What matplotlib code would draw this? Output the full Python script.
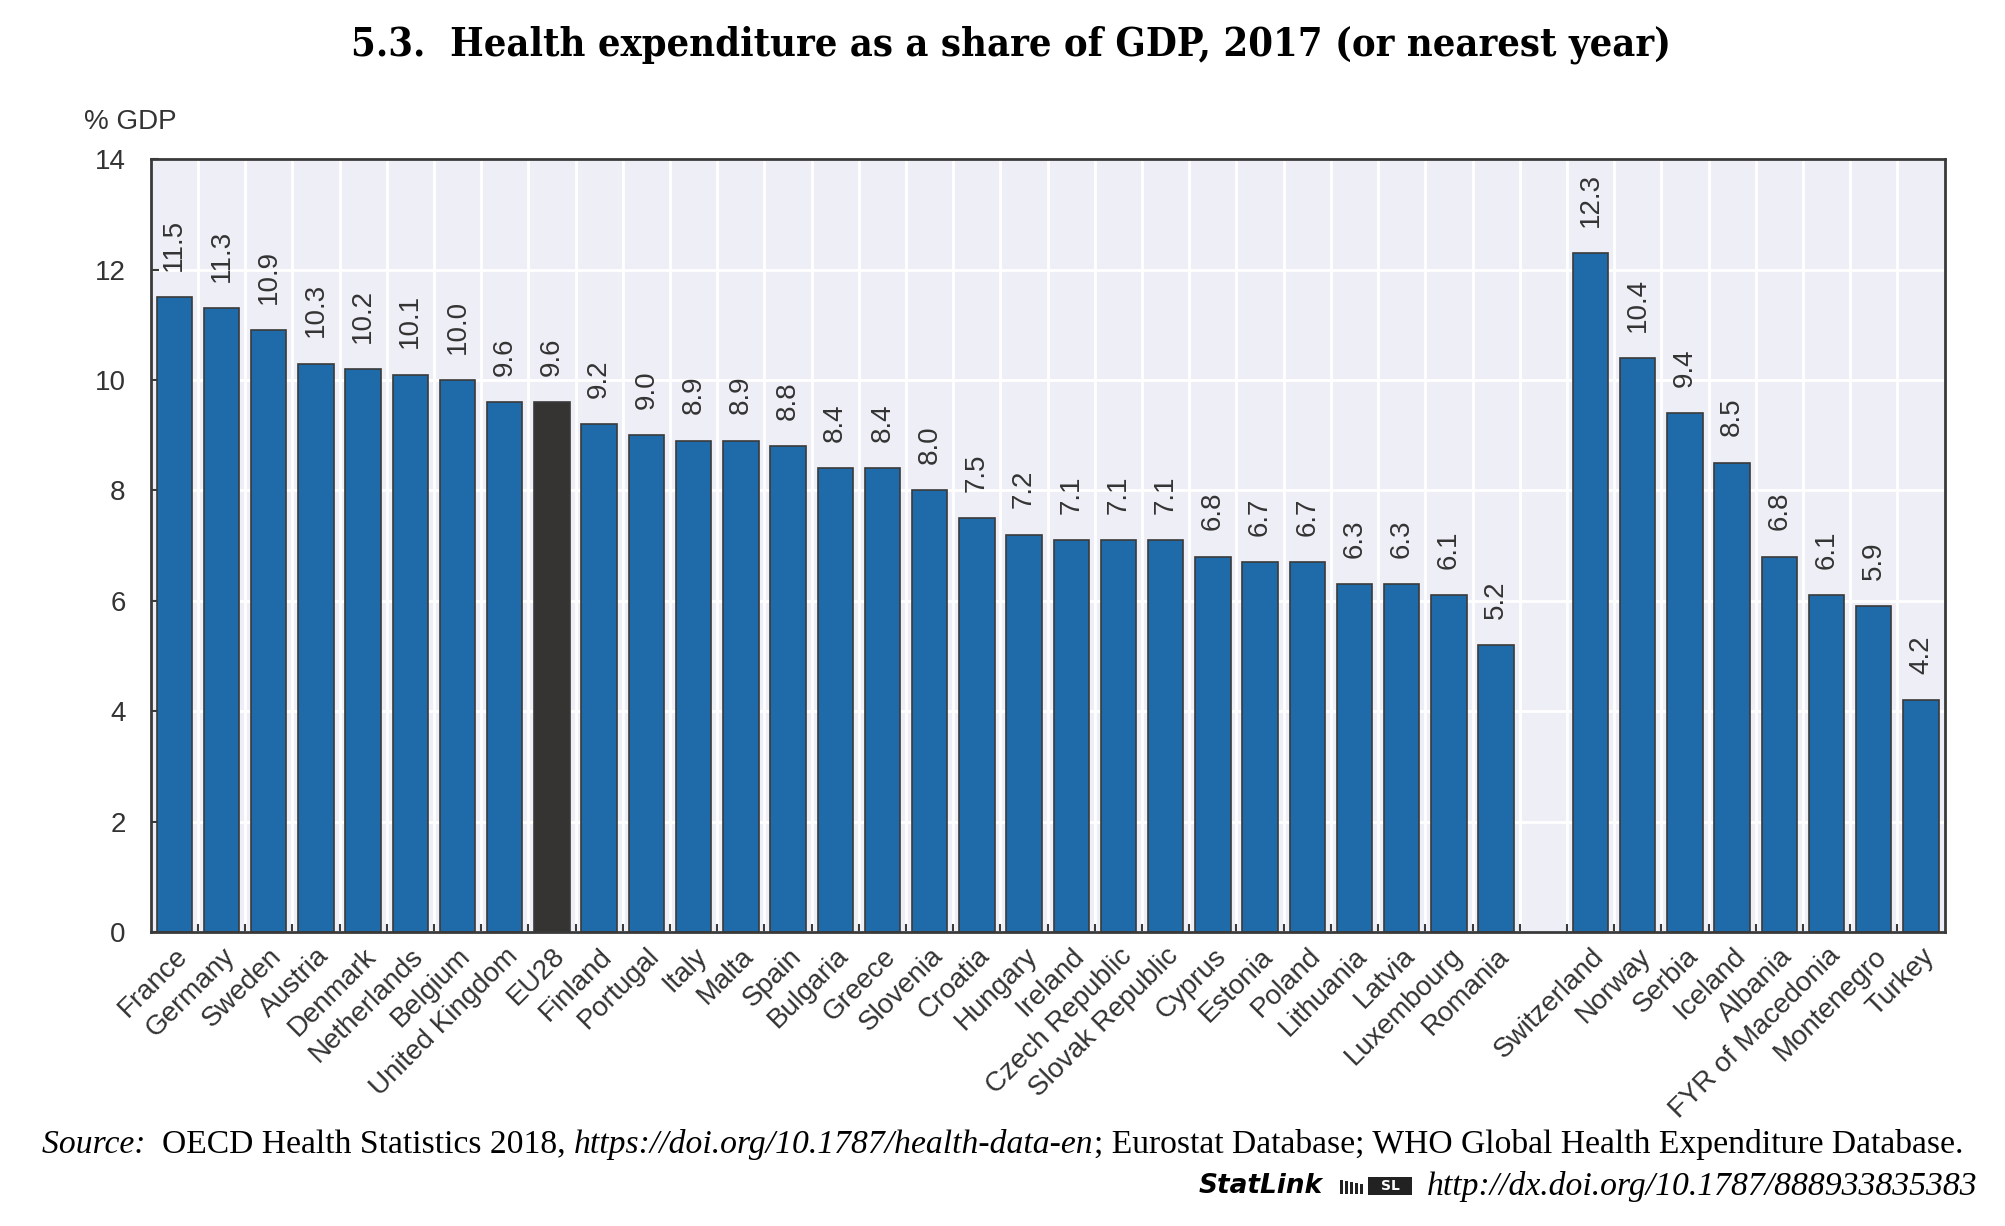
import matplotlib
matplotlib.use("Agg")
import matplotlib.pyplot as plt
from matplotlib.patches import Rectangle

countries_eu = ["France", "Germany", "Sweden", "Austria", "Denmark", "Netherlands",
                "Belgium", "United Kingdom", "EU28", "Finland", "Portugal", "Italy",
                "Malta", "Spain", "Bulgaria", "Greece", "Slovenia", "Croatia", "Hungary",
                "Ireland", "Czech Republic", "Slovak Republic", "Cyprus", "Estonia",
                "Poland", "Lithuania", "Latvia", "Luxembourg", "Romania"]
values_eu = [11.5, 11.3, 10.9, 10.3, 10.2, 10.1, 10.0, 9.6, 9.6, 9.2, 9.0, 8.9,
             8.9, 8.8, 8.4, 8.4, 8.0, 7.5, 7.2, 7.1, 7.1, 7.1, 6.8, 6.7, 6.7,
             6.3, 6.3, 6.1, 5.2]
countries_other = ["Switzerland", "Norway", "Serbia", "Iceland", "Albania",
                   "FYR of Macedonia", "Montenegro", "Turkey"]
values_other = [12.3, 10.4, 9.4, 8.5, 6.8, 6.1, 5.9, 4.2]
highlight = "EU28"

blue = "#1f6aa9"
dark = "#363433"
bg = "#eeeff6"
edge = "#3a3a3a"
sans = ["Liberation Sans Narrow", "Liberation Sans", "DejaVu Sans"]

W, H = 2006, 1226
fig = plt.figure(figsize=(W / 100, H / 100), dpi=100)
ax = fig.add_axes([150.7 / W, 1 - 932 / H, (1944.6 - 150.7) / W, (932 - 159.3) / H])
ax.set_facecolor(bg)

# positions: EU group, one empty slot, then the rest
labels = countries_eu + countries_other
values = values_eu + values_other
pos = list(range(len(countries_eu))) + [len(countries_eu) + 1 + i for i in range(len(countries_other))]
nslots = len(countries_eu) + 1 + len(countries_other)

colors = [dark if c == highlight else blue for c in labels]
ax.bar(pos, values, width=0.75, color=colors, edgecolor=edge, linewidth=1.2, zorder=3)

for x, v in zip(pos, values):
    ax.annotate(f"{v:.1f}", (x, v), xytext=(0, 19), textcoords="offset points",
                rotation=90, ha="center", va="bottom", fontsize=20,
                family=sans, color="#333333")

ax.set_xlim(-0.5, nslots - 0.5)
ax.set_ylim(0, 14)
ax.set_yticks(range(0, 15, 2))
ax.set_xticks(pos)
ax.set_xticklabels(labels, rotation=45, ha="right", rotation_mode="anchor",
                   family=sans, fontsize=20, color="#333333")
bounds = [p + 0.5 for p in pos[:-1]]
bounds.insert(len(countries_eu), len(countries_eu) - 0.5 + 1)
ax.set_xticks(bounds, minor=True)

ax.grid(True, axis="y", color="white", linewidth=2, zorder=1)
ax.grid(True, axis="x", which="minor", color="white", linewidth=2, zorder=1)
ax.grid(False, axis="x", which="major")
ax.tick_params(axis="x", which="major", length=0, pad=8)
ax.tick_params(axis="x", which="minor", direction="in", length=6, width=1.5, color=edge)
ax.tick_params(axis="y", direction="in", length=6, width=1.5, color=edge,
               labelsize=20, labelcolor="#333333", pad=18)
for t in ax.get_yticklabels():
    t.set_family(sans)
for s in ax.spines.values():
    s.set_color(edge)
    s.set_linewidth(2)
    s.set_zorder(4)

fig.text(84 / W, 1 - 122 / H, "% GDP", family=sans, fontsize=20, color="#333333",
         ha="left", va="center")

fig.text(1011 / W, 1 - 45 / H, "5.3.  Health expenditure as a share of GDP, 2017 (or nearest year)",
         family="DejaVu Serif", fontstretch="condensed", fontweight="bold",
         fontsize=28.5, ha="center", va="center", color="black")

# source line, built from pieces with different styles
renderer = fig.canvas.get_renderer()


def run_text(x_px, y_px, parts, ha="left"):
    texts = []
    for s, kw in parts:
        t = fig.text(0, y_px / H, s, va="center", ha="left", **kw)
        texts.append(t)
    widths = [t.get_window_extent(renderer).width for t in texts]
    total = sum(widths)
    x = x_px if ha == "left" else x_px - total
    for t, w in zip(texts, widths):
        t.set_x(x / W)
        x += w
    return x_px - total if ha == "right" else x


serif = dict(family="Liberation Serif", fontsize=24.2, color="black")
serif_i = dict(serif, style="italic")
run_text(42, H - 1145, [
    ("Source:  ", serif_i),
    ("OECD Health Statistics 2018, ", serif),
    ("https://doi.org/10.1787/health-data-en", serif_i),
    ("; Eurostat Database; WHO Global Health Expenditure Database.", serif),
])

left = run_text(1977, H - 1186, [("http://dx.doi.org/10.1787/888933835383", serif_i)], ha="right")
# little StatLink icon: stripes plus an "SL" box
icon_x = left - 86
for k in range(5):
    fig.patches.append(Rectangle(((icon_x + k * 5) / W, (H - 1194) / H), 3 / W, (14 - k) / H,
                                 transform=fig.transFigure, facecolor="#222222",
                                 edgecolor="none"))
fig.patches.append(Rectangle(((icon_x + 28) / W, (H - 1195) / H), 44 / W, 18 / H,
                             transform=fig.transFigure, facecolor="#222222",
                             edgecolor="none"))
fig.text((icon_x + 50) / W, (H - 1186) / H, "SL", family="DejaVu Sans", fontsize=10,
         fontweight="bold", color="white", ha="center", va="center")
fig.text((icon_x - 18) / W, (H - 1186) / H, "StatLink", family="DejaVu Sans",
         fontweight="bold", style="italic", fontsize=19, ha="right", va="center")

fig.savefig("out.png", dpi=100, facecolor="white")
